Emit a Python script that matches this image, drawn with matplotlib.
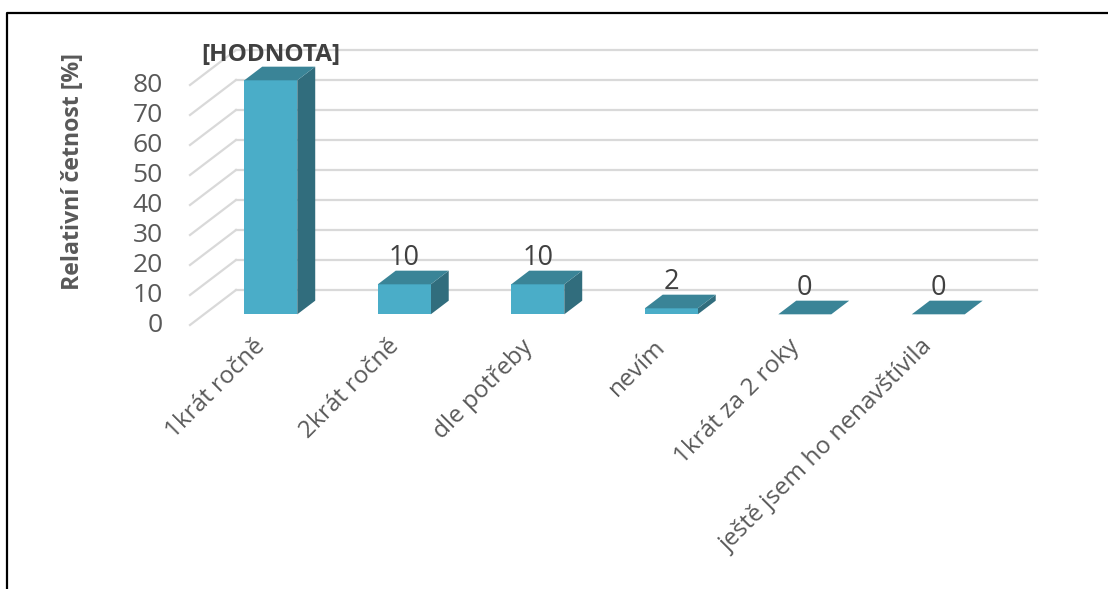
import matplotlib.pyplot as plt
from matplotlib.patches import Polygon
from matplotlib.lines import Line2D

plt.rcParams['font.family'] = ['Open Sans', 'DejaVu Sans']

# --------- DATA ----------
categories = ['1krát ročně', '2krát ročně', 'dle potřeby', 'nevím',
              '1krát za 2 roky', 'ještě jsem ho nenavštívila']
values = [78, 10, 10, 2, 0, 0]
value_labels = ['[HODNOTA]', '10', '10', '2', '0', '0']
yticks = [0, 10, 20, 30, 40, 50, 60, 70, 80]
ylabel = 'Relativní četnost [%]'
# -------------------------

W, H = 1108, 589
fh = plt.figure(figsize=(W / 100, H / 100), dpi=100)
ax = fh.add_axes([236 / W, (H - 290) / H, 801 / W, 240 / H])
ax.set_xlim(0, 6)
ax.set_ylim(0, 80)
ax.axis('off')

# oblique 3d: full depth shifts the back wall by (-46 px, +35 px) towards the viewer
px_x = 801 / 6.0
px_y = 240 / 80.0
DX = -46 / px_x
DY = -35 / px_y
PT = 0.72  # points per pixel at 100 dpi


def proj(c, v, z):
    # z = 1 back wall, z = 0 front edge
    return (c + DX * (1 - z), v + DY * (1 - z))


grid_col = '#d9d9d9'
for v in yticks:
    xb, yb = proj(0, v, 1)
    xe, ye = proj(6, v, 1)
    xf, yf = proj(0, v, 0)
    ax.add_line(Line2D([xb, xe], [yb, ye], color=grid_col, lw=1.6, clip_on=False, zorder=1))
    ax.add_line(Line2D([xf, xb], [yf, yb], color=grid_col, lw=1.6, clip_on=False, zorder=1))
    ax.annotate(str(v), xy=(xf, yf), xytext=(-27 * PT, 0), textcoords='offset points',
                ha='right', va='center', fontsize=19, color='#595959',
                annotation_clip=False)

# bars
front_col = '#4aadc8'
top_col = '#3a8497'
side_col = '#316d7d'
bw = 0.397
z0, z1 = 0.305, 0.695
centers = [i + 0.5 for i in range(len(values))]
fx = [proj(c, 0, z0)[0] for c in centers]
fy0 = proj(0, 0, z0)[1]

ax.bar(fx, values, width=bw, bottom=fy0, color=front_col, lw=0, zorder=3, clip_on=False)
for c, v in zip(centers, values):
    l, r = c - bw / 2, c + bw / 2
    top = [proj(l, v, z0), proj(r, v, z0), proj(r, v, z1), proj(l, v, z1)]
    side = [proj(r, 0, z0), proj(r, 0, z1), proj(r, v, z1), proj(r, v, z0)]
    ax.add_patch(Polygon(side, closed=True, fc=side_col, ec='none', zorder=2, clip_on=False))
    ax.add_patch(Polygon(top, closed=True, fc=top_col, ec='none', zorder=4, clip_on=False))

# value labels
for c, v, lab in zip(centers, values, value_labels):
    xl = proj(c, v, z0)[0]
    yl = proj(c, v, z1)[1]
    bold = lab.startswith('[')
    ax.annotate(lab, xy=(xl, yl), xytext=(0, 6 * PT), textcoords='offset points',
                ha='center', va='baseline', fontsize=17.5 if bold else 19.5,
                fontweight='bold' if bold else 'normal', color='#404040',
                annotation_clip=False)

# category labels
for c, cat in zip(centers, categories):
    xl, yl = proj(c, 0, z0)
    ax.annotate(cat, xy=(xl, yl), xytext=(-9 * PT, -29 * PT), textcoords='offset points',
                ha='right', va='center', rotation=45, rotation_mode='anchor',
                fontsize=17.5, color='#595959', annotation_clip=False)

fh.text(73 / W, 1 - 172 / H, ylabel, rotation=90, ha='center', va='center',
        fontsize=16.7, fontweight='bold', color='#595959')

# chart border (top and left edges visible)
fh.add_artist(Line2D([7 / W, 7 / W, 1.0], [0.0, 1 - 13 / H, 1 - 13 / H],
                     transform=fh.transFigure, color='black', lw=1.6))

fh.savefig('out.png', dpi=100)
